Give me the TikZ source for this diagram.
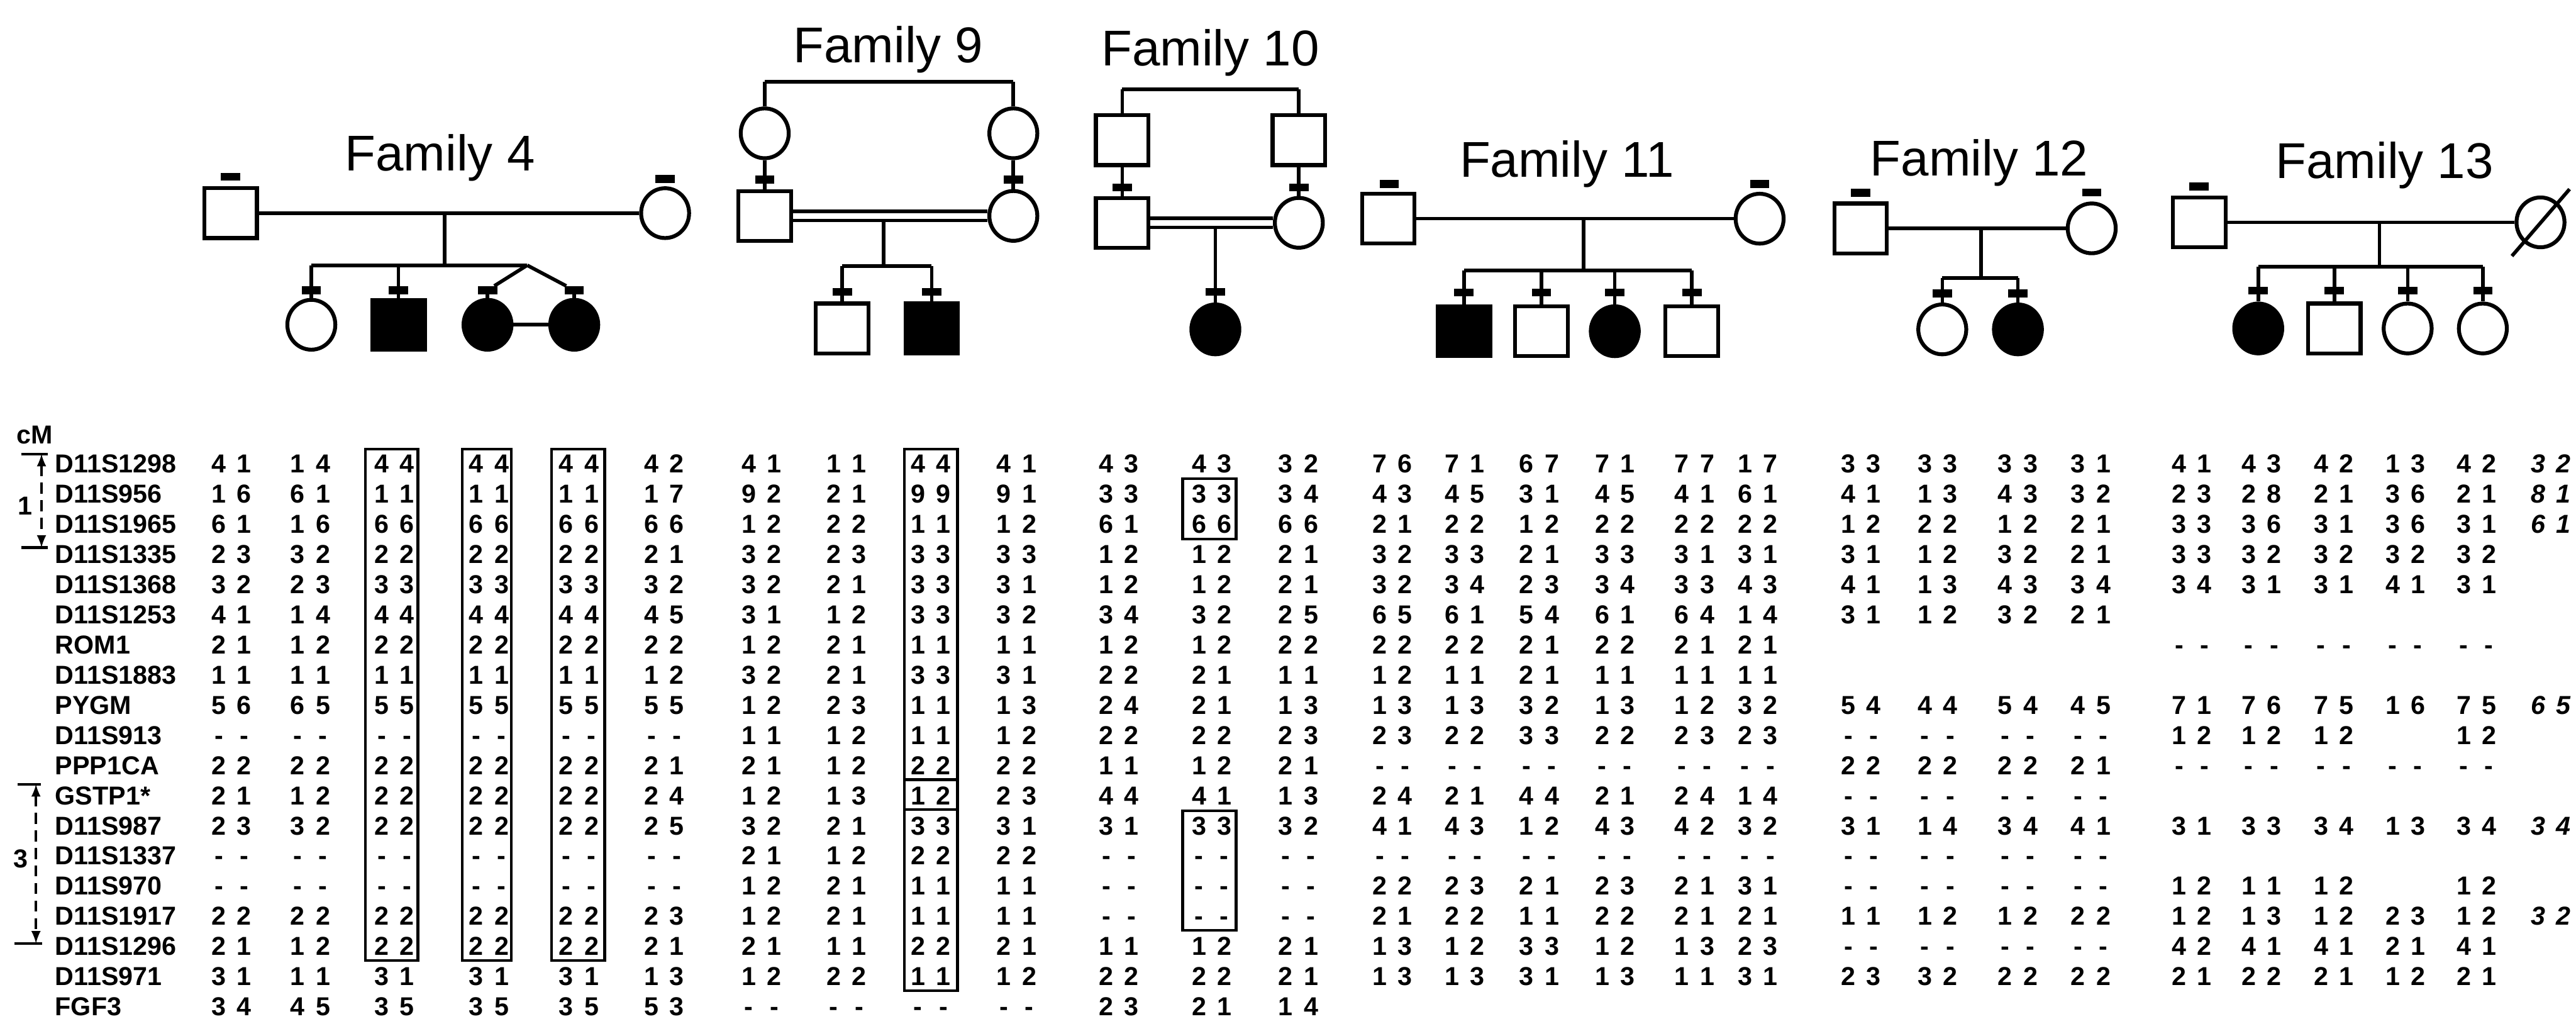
\documentclass[tikz,border=0pt]{standalone}
\usepackage{fontspec}
\setmainfont{Liberation Sans}
\usepackage{tikz}
\usetikzlibrary{shapes}
\usetikzlibrary{shapes.geometric}
\pgfdeclarelayer{edgelayer}
\pgfdeclarelayer{nodelayer}
\pgfsetlayers{edgelayer,nodelayer,main}
\tikzstyle{none}=[inner sep=0pt]
\tikzstyle{male}=[draw, rectangle, line width=2.4pt, fill=white, minimum width=1.14cm, minimum height=1.08cm, inner sep=0pt]
\tikzstyle{female}=[draw, ellipse, line width=2.4pt, fill=white, minimum width=1.04cm, minimum height=1.08cm, inner sep=0pt]
\tikzstyle{affected male}=[male, fill=black]
\tikzstyle{affected female}=[female, fill=black]
\tikzstyle{typed}=[fill=black, rectangle, minimum width=0.42cm, minimum height=0.17cm, inner sep=0pt]
\tikzstyle{family}=[inner sep=0pt, anchor=base, font=\fontsize{31}{36}\selectfont]
\tikzstyle{allele}=[inner sep=0pt, anchor=base, font=\fontsize{16}{18.6}\selectfont\bfseries]
\tikzstyle{locus}=[allele, anchor=base west]
\tikzstyle{edge}=[line width=2.2pt]
\tikzstyle{consang}=[edge, double, double distance=0.12cm]
\tikzstyle{haplotype}=[line width=1.6pt]
\tikzstyle{interval}=[line width=1.6pt, dash pattern=on 0.24cm off 0.14cm, >=latex]
\newcommand{\alp}[2]{\makebox[5.5mm]{#1}\makebox[5.5mm]{#2}}
\newcommand{\alleles}[1]{\begin{tabular}[t]{@{}c@{}}#1\end{tabular}}
\begin{document}
\begin{tikzpicture}
	\useasboundingbox (0, 0) rectangle (55.85, -22.08);
	\begin{pgfonlayer}{nodelayer}
		\node [style=family] (0) at (9.54, -3.70) {Family 4};
		\node [style=male] (1) at (5.00, -4.62) {};
		\node [style=typed] (2) at (5.00, -3.83) {};
		\node [style=female] (3) at (14.42, -4.62) {};
		\node [style=typed] (4) at (14.42, -3.88) {};
		\node [style=none] (5) at (9.64, -4.62) {};
		\node [style=none] (6) at (9.64, -5.75) {};
		\node [style=none] (7) at (6.75, -5.75) {};
		\node [style=none] (8) at (11.43, -5.75) {};
		\node [style=none] (9) at (8.64, -5.75) {};
		\node [style=female] (10) at (6.75, -7.04) {};
		\node [style=typed] (11) at (6.75, -6.29) {};
		\node [style=affected male] (12) at (8.64, -7.04) {};
		\node [style=typed] (13) at (8.64, -6.29) {};
		\node [style=affected female] (14) at (10.57, -7.04) {};
		\node [style=typed] (15) at (10.57, -6.29) {};
		\node [style=affected female] (16) at (12.45, -7.04) {};
		\node [style=typed] (17) at (12.45, -6.29) {};
		\node [style=family] (18) at (19.26, -1.35) {Family 9};
		\node [style=female] (19) at (16.58, -2.89) {};
		\node [style=female] (20) at (21.97, -2.89) {};
		\node [style=none] (21) at (16.58, -1.77) {};
		\node [style=none] (22) at (21.97, -1.77) {};
		\node [style=male] (23) at (16.58, -4.68) {};
		\node [style=typed] (24) at (16.58, -3.89) {};
		\node [style=female] (25) at (21.97, -4.68) {};
		\node [style=typed] (26) at (21.97, -3.89) {};
		\node [style=none] (27) at (19.16, -4.78) {};
		\node [style=none] (28) at (19.16, -5.77) {};
		\node [style=none] (29) at (18.26, -5.77) {};
		\node [style=none] (30) at (20.20, -5.77) {};
		\node [style=male] (31) at (18.26, -7.12) {};
		\node [style=typed] (32) at (18.26, -6.33) {};
		\node [style=affected male] (33) at (20.20, -7.12) {};
		\node [style=typed] (34) at (20.20, -6.33) {};
		\node [style=family] (35) at (26.24, -1.43) {Family 10};
		\node [style=male] (36) at (24.33, -3.04) {};
		\node [style=male] (37) at (28.16, -3.04) {};
		\node [style=none] (38) at (24.33, -1.94) {};
		\node [style=none] (39) at (28.16, -1.94) {};
		\node [style=male] (40) at (24.33, -4.83) {};
		\node [style=typed] (41) at (24.33, -4.06) {};
		\node [style=female] (42) at (28.16, -4.83) {};
		\node [style=typed] (43) at (28.16, -4.06) {};
		\node [style=none] (44) at (26.35, -4.93) {};
		\node [style=affected female] (45) at (26.35, -7.14) {};
		\node [style=typed] (46) at (26.35, -6.33) {};
		\node [style=family] (47) at (33.97, -3.84) {Family 11};
		\node [style=male] (48) at (30.10, -4.74) {};
		\node [style=typed] (49) at (30.12, -3.99) {};
		\node [style=female] (50) at (38.15, -4.74) {};
		\node [style=typed] (51) at (38.15, -3.99) {};
		\node [style=none] (52) at (34.33, -4.74) {};
		\node [style=none] (53) at (34.33, -5.86) {};
		\node [style=none] (54) at (31.74, -5.86) {};
		\node [style=none] (55) at (36.68, -5.86) {};
		\node [style=none] (56) at (33.42, -5.86) {};
		\node [style=none] (57) at (35.01, -5.86) {};
		\node [style=affected male] (58) at (31.74, -7.18) {};
		\node [style=typed] (59) at (31.74, -6.34) {};
		\node [style=male] (60) at (33.42, -7.18) {};
		\node [style=typed] (61) at (33.42, -6.34) {};
		\node [style=affected female] (62) at (35.01, -7.18) {};
		\node [style=typed] (63) at (35.01, -6.34) {};
		\node [style=male] (64) at (36.68, -7.18) {};
		\node [style=typed] (65) at (36.68, -6.34) {};
		\node [style=family] (66) at (42.91, -3.81) {Family 12};
		\node [style=male] (67) at (40.34, -4.95) {};
		\node [style=typed] (68) at (40.34, -4.18) {};
		\node [style=female] (69) at (45.35, -4.95) {};
		\node [style=typed] (70) at (45.35, -4.17) {};
		\node [style=none] (71) at (42.95, -4.95) {};
		\node [style=none] (72) at (42.95, -6.03) {};
		\node [style=none] (73) at (42.11, -6.03) {};
		\node [style=none] (74) at (43.75, -6.03) {};
		\node [style=female] (75) at (42.11, -7.14) {};
		\node [style=typed] (76) at (42.11, -6.36) {};
		\node [style=affected female] (77) at (43.75, -7.14) {};
		\node [style=typed] (78) at (43.75, -6.36) {};
		\node [style=family] (79) at (51.70, -3.87) {Family 13};
		\node [style=male] (80) at (47.68, -4.82) {};
		\node [style=typed] (81) at (47.68, -4.04) {};
		\node [style=female] (82) at (55.08, -4.82) {};
		\node [style=none] (83) at (54.46, -5.55) {};
		\node [style=none] (84) at (55.71, -4.10) {};
		\node [style=none] (85) at (51.59, -4.82) {};
		\node [style=none] (86) at (51.59, -5.78) {};
		\node [style=none] (87) at (48.96, -5.78) {};
		\node [style=none] (88) at (53.83, -5.78) {};
		\node [style=affected female] (89) at (48.96, -7.12) {};
		\node [style=typed] (90) at (48.96, -6.30) {};
		\node [style=male] (91) at (50.61, -7.12) {};
		\node [style=typed] (92) at (50.61, -6.30) {};
		\node [style=female] (93) at (52.20, -7.12) {};
		\node [style=typed] (94) at (52.20, -6.30) {};
		\node [style=female] (95) at (53.83, -7.12) {};
		\node [style=typed] (96) at (53.83, -6.30) {};
		\node [style=none] (97) at (50.61, -5.78) {};
		\node [style=none] (98) at (52.20, -5.78) {};
		\node [style=locus] (99) at (0.36, -9.62) {cM};
		\node [style=locus] (100) at (1.19, -10.25) {\begin{tabular}[t]{@{}l@{}}D11S1298\\D11S956\\D11S1965\\D11S1335\\D11S1368\\D11S1253\\ROM1\\D11S1883\\PYGM\\D11S913\\PPP1CA\\GSTP1*\\D11S987\\D11S1337\\D11S970\\D11S1917\\D11S1296\\D11S971\\FGF3\end{tabular}};
		\node [style=allele] (101) at (5.02, -10.25) {\alleles{\alp41\\\alp16\\\alp61\\\alp23\\\alp32\\\alp41\\\alp21\\\alp11\\\alp56\\\alp--\\\alp22\\\alp21\\\alp23\\\alp--\\\alp--\\\alp22\\\alp21\\\alp31\\\alp34}};
		\node [style=allele] (102) at (6.73, -10.25) {\alleles{\alp14\\\alp61\\\alp16\\\alp32\\\alp23\\\alp14\\\alp12\\\alp11\\\alp65\\\alp--\\\alp22\\\alp12\\\alp32\\\alp--\\\alp--\\\alp22\\\alp12\\\alp11\\\alp45}};
		\node [style=allele] (103) at (8.55, -10.25) {\alleles{\alp44\\\alp11\\\alp66\\\alp22\\\alp33\\\alp44\\\alp22\\\alp11\\\alp55\\\alp--\\\alp22\\\alp22\\\alp22\\\alp--\\\alp--\\\alp22\\\alp22\\\alp31\\\alp35}};
		\node [style=allele] (104) at (10.60, -10.25) {\alleles{\alp44\\\alp11\\\alp66\\\alp22\\\alp33\\\alp44\\\alp22\\\alp11\\\alp55\\\alp--\\\alp22\\\alp22\\\alp22\\\alp--\\\alp--\\\alp22\\\alp22\\\alp31\\\alp35}};
		\node [style=allele] (105) at (12.55, -10.25) {\alleles{\alp44\\\alp11\\\alp66\\\alp22\\\alp33\\\alp44\\\alp22\\\alp11\\\alp55\\\alp--\\\alp22\\\alp22\\\alp22\\\alp--\\\alp--\\\alp22\\\alp22\\\alp31\\\alp35}};
		\node [style=allele] (106) at (14.40, -10.25) {\alleles{\alp42\\\alp17\\\alp66\\\alp21\\\alp32\\\alp45\\\alp22\\\alp12\\\alp55\\\alp--\\\alp21\\\alp24\\\alp25\\\alp--\\\alp--\\\alp23\\\alp21\\\alp13\\\alp53}};
		\node [style=allele] (107) at (16.51, -10.25) {\alleles{\alp41\\\alp92\\\alp12\\\alp32\\\alp32\\\alp31\\\alp12\\\alp32\\\alp12\\\alp11\\\alp21\\\alp12\\\alp32\\\alp21\\\alp12\\\alp12\\\alp21\\\alp12\\\alp--}};
		\node [style=allele] (108) at (18.35, -10.25) {\alleles{\alp11\\\alp21\\\alp22\\\alp23\\\alp21\\\alp12\\\alp21\\\alp21\\\alp23\\\alp12\\\alp12\\\alp13\\\alp21\\\alp12\\\alp21\\\alp21\\\alp11\\\alp22\\\alp--}};
		\node [style=allele] (109) at (20.18, -10.25) {\alleles{\alp44\\\alp99\\\alp11\\\alp33\\\alp33\\\alp33\\\alp11\\\alp33\\\alp11\\\alp11\\\alp22\\\alp12\\\alp33\\\alp22\\\alp11\\\alp11\\\alp22\\\alp11\\\alp--}};
		\node [style=allele] (110) at (22.04, -10.25) {\alleles{\alp41\\\alp91\\\alp12\\\alp33\\\alp31\\\alp32\\\alp11\\\alp31\\\alp13\\\alp12\\\alp22\\\alp23\\\alp31\\\alp22\\\alp11\\\alp11\\\alp21\\\alp12\\\alp--}};
		\node [style=allele] (111) at (24.26, -10.25) {\alleles{\alp43\\\alp33\\\alp61\\\alp12\\\alp12\\\alp34\\\alp12\\\alp22\\\alp24\\\alp22\\\alp11\\\alp44\\\alp31\\\alp--\\\alp--\\\alp--\\\alp11\\\alp22\\\alp23}};
		\node [style=allele] (112) at (26.27, -10.25) {\alleles{\alp43\\\alp33\\\alp66\\\alp12\\\alp12\\\alp32\\\alp12\\\alp21\\\alp21\\\alp22\\\alp12\\\alp41\\\alp33\\\alp--\\\alp--\\\alp--\\\alp12\\\alp22\\\alp21}};
		\node [style=allele] (113) at (28.15, -10.25) {\alleles{\alp32\\\alp34\\\alp66\\\alp21\\\alp21\\\alp25\\\alp22\\\alp11\\\alp13\\\alp23\\\alp21\\\alp13\\\alp32\\\alp--\\\alp--\\\alp--\\\alp21\\\alp21\\\alp14}};
		\node [style=allele] (114) at (30.19, -10.25) {\alleles{\alp76\\\alp43\\\alp21\\\alp32\\\alp32\\\alp65\\\alp22\\\alp12\\\alp13\\\alp23\\\alp--\\\alp24\\\alp41\\\alp--\\\alp22\\\alp21\\\alp13\\\alp13}};
		\node [style=allele] (115) at (31.76, -10.25) {\alleles{\alp71\\\alp45\\\alp22\\\alp33\\\alp34\\\alp61\\\alp22\\\alp11\\\alp13\\\alp22\\\alp--\\\alp21\\\alp43\\\alp--\\\alp23\\\alp22\\\alp12\\\alp13}};
		\node [style=allele] (116) at (33.37, -10.25) {\alleles{\alp67\\\alp31\\\alp12\\\alp21\\\alp23\\\alp54\\\alp21\\\alp21\\\alp32\\\alp33\\\alp--\\\alp44\\\alp12\\\alp--\\\alp21\\\alp11\\\alp33\\\alp31}};
		\node [style=allele] (117) at (35.01, -10.25) {\alleles{\alp71\\\alp45\\\alp22\\\alp33\\\alp34\\\alp61\\\alp22\\\alp11\\\alp13\\\alp22\\\alp--\\\alp21\\\alp43\\\alp--\\\alp23\\\alp22\\\alp12\\\alp13}};
		\node [style=allele] (118) at (36.74, -10.25) {\alleles{\alp77\\\alp41\\\alp22\\\alp31\\\alp33\\\alp64\\\alp21\\\alp11\\\alp12\\\alp23\\\alp--\\\alp24\\\alp42\\\alp--\\\alp21\\\alp21\\\alp13\\\alp11}};
		\node [style=allele] (119) at (38.11, -10.25) {\alleles{\alp17\\\alp61\\\alp22\\\alp31\\\alp43\\\alp14\\\alp21\\\alp11\\\alp32\\\alp23\\\alp--\\\alp14\\\alp32\\\alp--\\\alp31\\\alp21\\\alp23\\\alp31}};
		\node [style=allele] (120) at (40.35, -10.25) {\alleles{\alp33\\\alp41\\\alp12\\\alp31\\\alp41\\\alp31\\\\\\\alp54\\\alp--\\\alp22\\\alp--\\\alp31\\\alp--\\\alp--\\\alp11\\\alp--\\\alp23}};
		\node [style=allele] (121) at (42.01, -10.25) {\alleles{\alp33\\\alp13\\\alp22\\\alp12\\\alp13\\\alp12\\\\\\\alp44\\\alp--\\\alp22\\\alp--\\\alp14\\\alp--\\\alp--\\\alp12\\\alp--\\\alp32}};
		\node [style=allele] (122) at (43.75, -10.25) {\alleles{\alp33\\\alp43\\\alp12\\\alp32\\\alp43\\\alp32\\\\\\\alp54\\\alp--\\\alp22\\\alp--\\\alp34\\\alp--\\\alp--\\\alp12\\\alp--\\\alp22}};
		\node [style=allele] (123) at (45.33, -10.25) {\alleles{\alp31\\\alp32\\\alp21\\\alp21\\\alp34\\\alp21\\\\\\\alp45\\\alp--\\\alp21\\\alp--\\\alp41\\\alp--\\\alp--\\\alp22\\\alp--\\\alp22}};
		\node [style=allele] (124) at (47.52, -10.25) {\alleles{\alp41\\\alp23\\\alp33\\\alp33\\\alp34\\\\\alp--\\\\\alp71\\\alp12\\\alp--\\\\\alp31\\\\\alp12\\\alp12\\\alp42\\\alp21}};
		\node [style=allele] (125) at (49.03, -10.25) {\alleles{\alp43\\\alp28\\\alp36\\\alp32\\\alp31\\\\\alp--\\\\\alp76\\\alp12\\\alp--\\\\\alp33\\\\\alp11\\\alp13\\\alp41\\\alp22}};
		\node [style=allele] (126) at (50.60, -10.25) {\alleles{\alp42\\\alp21\\\alp31\\\alp32\\\alp31\\\\\alp--\\\\\alp75\\\alp12\\\alp--\\\\\alp34\\\\\alp12\\\alp12\\\alp41\\\alp21}};
		\node [style=allele] (127) at (52.15, -10.25) {\alleles{\alp13\\\alp36\\\alp36\\\alp32\\\alp41\\\\\alp--\\\\\alp16\\\\\alp--\\\\\alp13\\\\\\\alp23\\\alp21\\\alp12}};
		\node [style=allele] (128) at (53.69, -10.25) {\alleles{\alp42\\\alp21\\\alp31\\\alp32\\\alp31\\\\\alp--\\\\\alp75\\\alp12\\\alp--\\\\\alp34\\\\\alp12\\\alp12\\\alp41\\\alp21}};
		\node [style=allele, font=\fontsize{16}{18.6}\selectfont\bfseries\itshape] (129) at (55.30, -10.25) {\alleles{\alp32\\\alp81\\\alp61\\\\\\\\\\\\\alp65\\\\\\\\\alp34\\\\\\\alp32}};
		\node [style=none] (130) at (0.90, -9.84) {};
		\node [style=none] (131) at (0.90, -11.87) {};
		\node [style=none] (132) at (0.46, -9.84) {};
		\node [style=none] (133) at (1.03, -9.84) {};
		\node [style=none] (134) at (0.46, -11.87) {};
		\node [style=none] (135) at (1.03, -11.87) {};
		\node [style=allele, anchor=center] (136) at (0.55, -10.97) {1};
		\node [style=none] (137) at (0.78, -17.00) {};
		\node [style=none] (138) at (0.78, -20.45) {};
		\node [style=none] (139) at (0.38, -17.00) {};
		\node [style=none] (140) at (0.88, -17.00) {};
		\node [style=none] (141) at (0.31, -20.45) {};
		\node [style=none] (142) at (0.92, -20.45) {};
		\node [style=allele, anchor=center] (143) at (0.45, -18.62) {3};
	\end{pgfonlayer}
	\begin{pgfonlayer}{edgelayer}
		\draw [style=edge] (1) to (3);
		\draw [style=edge] (5.center) to (6.center);
		\draw [style=edge] (7.center) to (8.center);
		\draw [style=edge] (7.center) to (10);
		\draw [style=edge] (9.center) to (12);
		\draw [style=edge] (8.center) to (15);
		\draw [style=edge] (15) to (14);
		\draw [style=edge] (8.center) to (17);
		\draw [style=edge] (17) to (16);
		\draw [style=edge] (14) to (16);
		\draw [style=edge] (19) to (21.center);
		\draw [style=edge] (21.center) to (22.center);
		\draw [style=edge] (22.center) to (20);
		\draw [style=edge] (19) to (23);
		\draw [style=edge] (20) to (25);
		\draw [style=consang] (23) to (25);
		\draw [style=edge] (27.center) to (28.center);
		\draw [style=edge] (29.center) to (30.center);
		\draw [style=edge] (29.center) to (31);
		\draw [style=edge] (30.center) to (33);
		\draw [style=edge] (36) to (38.center);
		\draw [style=edge] (38.center) to (39.center);
		\draw [style=edge] (39.center) to (37);
		\draw [style=edge] (36) to (40);
		\draw [style=edge] (37) to (42);
		\draw [style=consang] (40) to (42);
		\draw [style=edge] (44.center) to (45);
		\draw [style=edge] (48) to (50);
		\draw [style=edge] (52.center) to (53.center);
		\draw [style=edge] (54.center) to (55.center);
		\draw [style=edge] (54.center) to (58);
		\draw [style=edge] (56.center) to (60);
		\draw [style=edge] (57.center) to (62);
		\draw [style=edge] (55.center) to (64);
		\draw [style=edge] (67) to (69);
		\draw [style=edge] (71.center) to (72.center);
		\draw [style=edge] (73.center) to (74.center);
		\draw [style=edge] (73.center) to (75);
		\draw [style=edge] (74.center) to (77);
		\draw [style=edge] (80) to (82);
		\draw [style=edge] (85.center) to (86.center);
		\draw [style=edge] (87.center) to (88.center);
		\draw [style=edge] (87.center) to (89);
		\draw [style=edge] (97.center) to (91);
		\draw [style=edge] (98.center) to (93);
		\draw [style=edge] (88.center) to (95);
		\draw [style=interval, <->] (130.center) to (131.center);
		\draw [style=haplotype] (132.center) to (133.center);
		\draw [style=haplotype] (134.center) to (135.center);
		\draw [style=interval, <->] (137.center) to (138.center);
		\draw [style=haplotype] (139.center) to (140.center);
		\draw [style=haplotype] (141.center) to (142.center);
	\end{pgfonlayer}
	\draw [style=edge] (83.center) to (84.center);
	\draw [style=haplotype] (7.92, -9.73) rectangle (9.06, -20.82);
	\draw [style=haplotype] (10.02, -9.73) rectangle (11.09, -20.82);
	\draw [style=haplotype] (11.96, -9.73) rectangle (13.11, -20.82);
	\draw [style=haplotype] (19.61, -9.73) rectangle (20.76, -16.90);
	\draw [style=haplotype] (19.61, -16.90) rectangle (20.76, -17.55);
	\draw [style=haplotype] (19.61, -17.55) rectangle (20.76, -21.47);
	\draw [style=haplotype] (25.64, -10.38) rectangle (26.80, -11.68);
	\draw [style=haplotype] (25.64, -17.57) rectangle (26.80, -20.17);
\end{tikzpicture}
\end{document}
